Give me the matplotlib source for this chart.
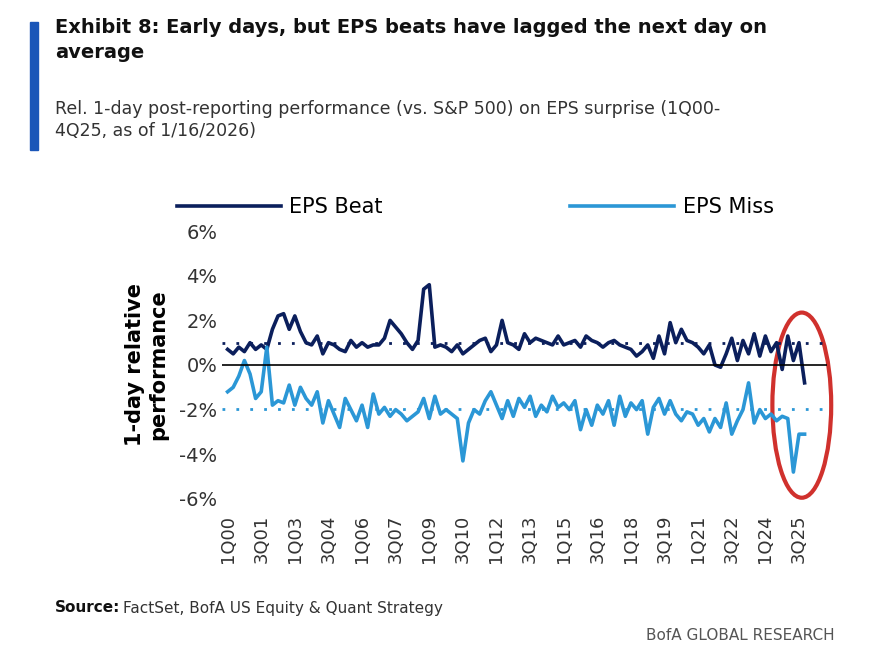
import numpy as np
import matplotlib.pyplot as plt
from matplotlib.patches import Ellipse, Rectangle

quarters = [f"{q}Q{y:02d}" for y in range(0, 26) for q in range(1, 5)]

eps_beat = [0.7, 0.5, 0.8, 0.6, 1.0, 0.7, 0.9, 0.7, 1.6, 2.2,
            2.3, 1.6, 2.2, 1.5, 1.0, 0.9, 1.3, 0.5, 1.0, 0.9,
            0.7, 0.6, 1.1, 0.8, 1.0, 0.8, 0.9, 0.9, 1.2, 2.0,
            1.7, 1.4, 1.0, 0.7, 1.1, 3.4, 3.6, 0.8, 0.9, 0.8,
            0.6, 0.9, 0.5, 0.7, 0.9, 1.1, 1.2, 0.6, 0.9, 2.0,
            1.0, 0.9, 0.7, 1.4, 1.0, 1.2, 1.1, 1.0, 0.9, 1.3,
            0.9, 1.0, 1.1, 0.8, 1.3, 1.1, 1.0, 0.8, 1.0, 1.1,
            0.9, 0.8, 0.7, 0.4, 0.6, 0.9, 0.3, 1.3, 0.5, 1.9,
            1.0, 1.6, 1.1, 1.0, 0.8, 0.5, 0.9, 0.0, -0.1, 0.5,
            1.2, 0.2, 1.1, 0.5, 1.4, 0.4, 1.3, 0.6, 1.0, -0.2,
            1.3, 0.2, 1.0, -0.8]

eps_miss = [-1.2, -1.0, -0.5, 0.2, -0.4, -1.5, -1.2, 0.8, -1.8, -1.6,
            -1.7, -0.9, -1.8, -1.0, -1.5, -1.8, -1.2, -2.6, -1.6, -2.2,
            -2.8, -1.5, -2.0, -2.5, -1.8, -2.8, -1.3, -2.2, -1.9, -2.3,
            -2.0, -2.2, -2.5, -2.3, -2.1, -1.5, -2.4, -1.4, -2.2, -2.0,
            -2.2, -2.4, -4.3, -2.6, -2.0, -2.2, -1.6, -1.2, -1.8, -2.4,
            -1.6, -2.3, -1.5, -1.9, -1.4, -2.3, -1.8, -2.1, -1.4, -1.9,
            -1.7, -2.0, -1.6, -2.9, -2.0, -2.7, -1.8, -2.2, -1.6, -2.7,
            -1.4, -2.3, -1.7, -2.0, -1.6, -3.1, -1.9, -1.5, -2.2, -1.6,
            -2.2, -2.5, -2.1, -2.2, -2.7, -2.4, -3.0, -2.4, -2.8, -1.7,
            -3.1, -2.5, -2.0, -0.8, -2.6, -2.0, -2.4, -2.2, -2.5, -2.3,
            -2.4, -4.8, -3.1, -3.1]

dark = '#0b1f5c'
light = '#2b97d6'

fig = plt.figure(figsize=(8.72, 6.62), dpi=100)

# header
fig.patches.append(Rectangle((30/872, 1-150/662), 8/872, 128/662,
                             transform=fig.transFigure, color='#1a56b8'))
fig.text(55/872, 1-40/662, "Exhibit 8: Early days, but EPS beats have lagged the next day on\naverage",
         fontsize=14, fontweight='bold', va='center', color='#111111', linespacing=1.35)
fig.text(55/872, 1-120/662, "Rel. 1-day post-reporting performance (vs. S&P 500) on EPS surprise (1Q00-\n4Q25, as of 1/16/2026)",
         fontsize=12.5, va='center', color='#333333', linespacing=1.3)

ax = fig.add_axes([222/872, 1-510/662, 605/872, 290/662])
x = np.arange(len(quarters))
ax.plot(x, eps_beat, color=dark, lw=2.6, label='EPS Beat')
ax.plot(x, eps_miss, color=light, lw=2.6, label='EPS Miss')
ax.axhline(np.mean(eps_beat), color=dark, ls=(0, (1, 4)), lw=2)
ax.axhline(np.mean(eps_miss), color=light, ls=(0, (1, 4)), lw=2)
ax.axhline(0, color='black', lw=1.2)

ax.set_ylim(-6.5, 6.5)
ax.set_yticks(range(-6, 7, 2))
ax.set_yticklabels([f"{v}%" for v in range(-6, 7, 2)], fontsize=14, color='#333333')
ax.set_xlim(-1, len(quarters) + 3)
ax.set_xticks(x[::6])
ax.set_xticklabels(quarters[::6], rotation=90, fontsize=13, color='#333333')
ax.tick_params(length=0)
for s in ax.spines.values():
    s.set_visible(False)
ax.set_ylabel("1-day relative\nperformance", fontsize=15, fontweight='bold', labelpad=8)

ax.add_patch(Ellipse((102.5, -1.8), 10.5, 8.3, fill=False, edgecolor='#d0312d',
                     lw=3, clip_on=False))

fig.legend(loc='center', bbox_to_anchor=(0.545, 1-207/662), ncol=2, frameon=False,
           fontsize=15, handlelength=5, columnspacing=9, handletextpad=0.4)

fig.text(55/872, 1-608/662, "Source:", fontsize=11, fontweight='bold', va='center', color='#111111')
fig.text(123/872, 1-608/662, "FactSet, BofA US Equity & Quant Strategy", fontsize=11, va='center', color='#333333')
fig.text(835/872, 1-636/662, "BofA GLOBAL RESEARCH", fontsize=11, ha='right', va='center', color='#555555')

fig.savefig('out.png', dpi=100)
